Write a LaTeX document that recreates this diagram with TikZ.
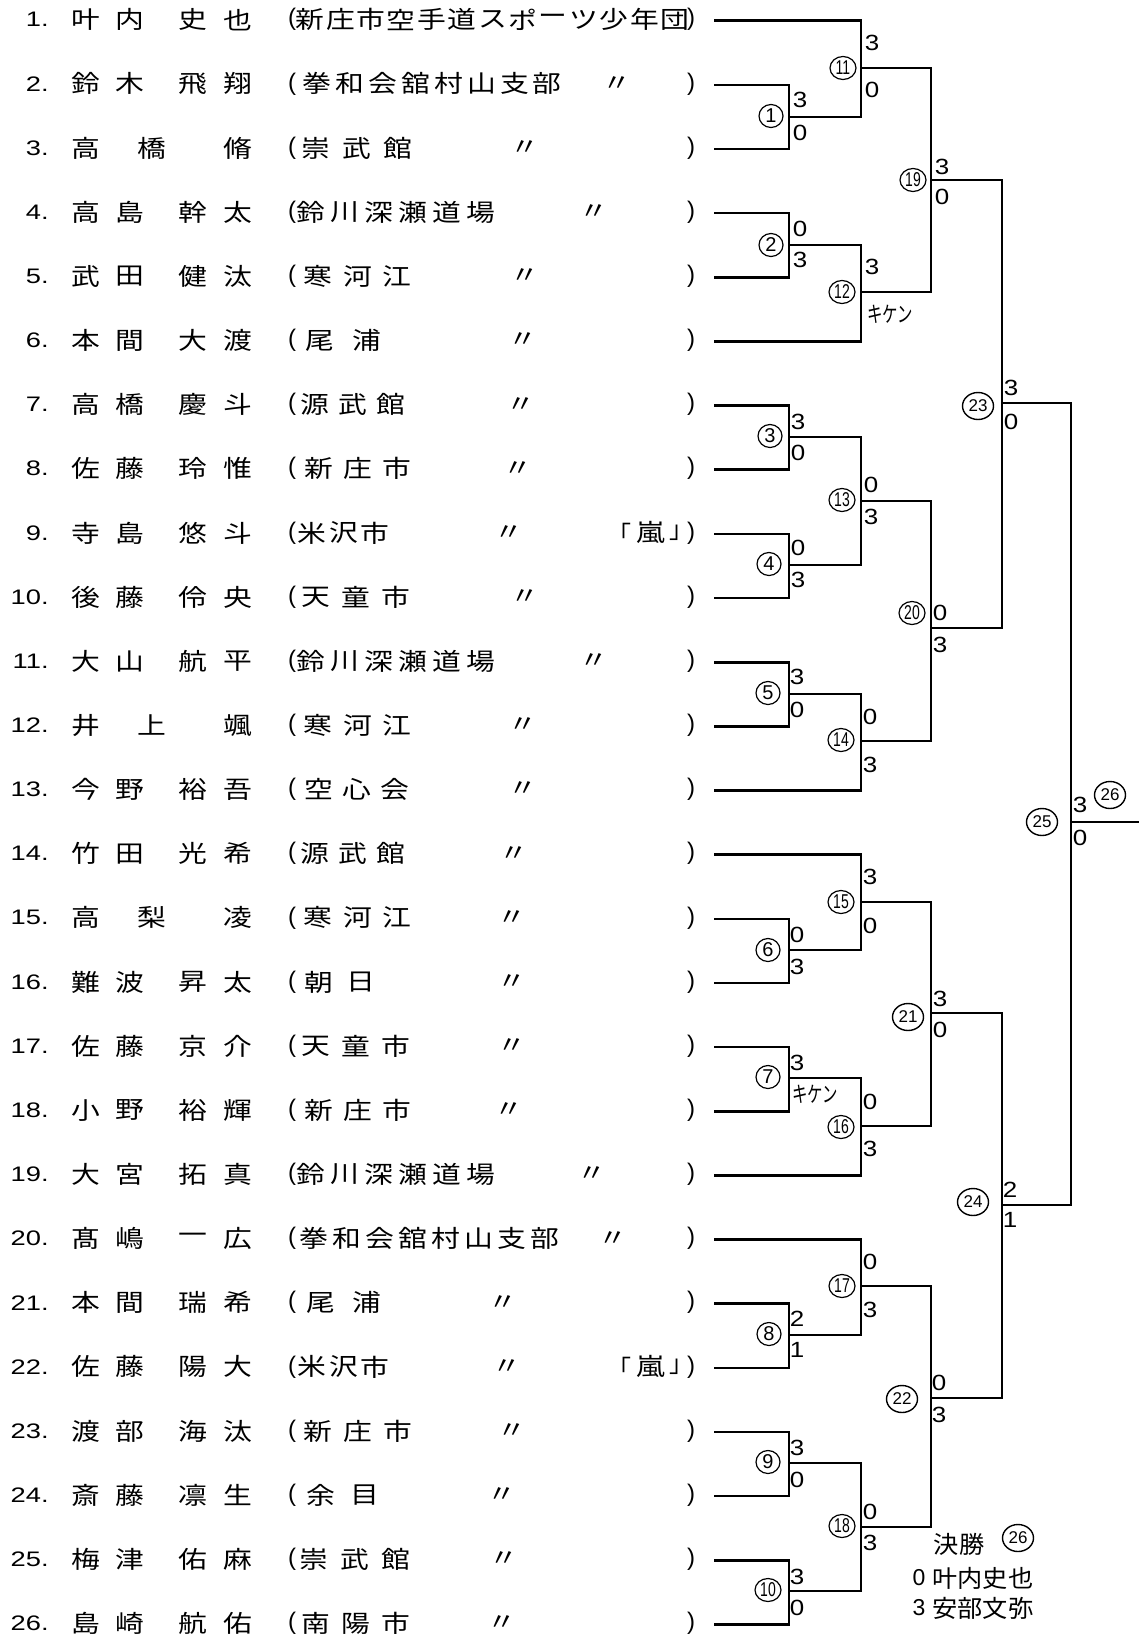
\documentclass[tikz,border=0pt]{standalone}
\usepackage{fontspec}
\usepackage{graphicx}
\usetikzlibrary{shapes.geometric}
\setmainfont{Liberation Sans}
\newfontfamily\jpf{Noto Sans CJK JP}
\newcommand\wx[1]{\scalebox{1.2}[1]{#1}}
\newcommand\sx[1]{\scalebox{1.18}[1]{#1}}
\newcommand\pyy[1]{(20.7+64.15*((#1)-1))}
\newcommand\tyy[1]{(19.7+64.15*((#1)-1))}
\newcommand\pnmF[5]{%
 \node[jp] (na#1) at (86,{\tyy{#1}}) {\wx{#2}};
 \node[jp] (nb#1) at (130,{\tyy{#1}}) {\wx{#3}};
 \node[jp] (nc#1) at (193,{\tyy{#1}}) {\wx{#4}};
 \node[jp] (nd#1) at (238,{\tyy{#1}}) {\wx{#5}};}
\newcommand\pnmT[4]{%
 \node[jp] (na#1) at (86,{\tyy{#1}}) {\wx{#2}};
 \node[jp] (nb#1) at (152,{\tyy{#1}}) {\wx{#3}};
 \node[jp] (nd#1) at (238,{\tyy{#1}}) {\wx{#4}};}
\newcommand\pclub[4]{\foreach \cc [count=\k] in {#4} {\node[jp] (cl#1-\k) at ({#2+#3*(\k-1)},{\tyy{#1}}) {\wx{\cc}};}}
\newcommand\pline[1]{%
 \coordinate (p#1) at (714,{\pyy{#1}});
 \node[numf] (n#1) at (49,{\tyy{#1}}) {\scalebox{1.3}[1]{#1.}};
 \node[parf] (lp#1) at (292,{\tyy{#1}}) {(};
 \node[parf] (rp#1) at (691,{\tyy{#1}}) {)};}
\newcommand\pdit[2]{\node[jp] (dt#1) at (#2,{\tyy{#1}}) {\wx{〃}};}
\newcommand\parashi[1]{%
 \node[jp] (ao#1) at (625,{\tyy{#1}}) {｢};
 \node[jp] (ar#1) at (651,{\tyy{#1}}) {\wx{嵐}};
 \node[jp] (ac#1) at (675,{\tyy{#1}}) {｣};}
\tikzset{
  brk/.style={line width=1.3pt, line join=miter},
  jp/.style={inner sep=0pt, font=\jpf\fontsize{12pt}{12pt}\selectfont},
  numf/.style={inner sep=0pt, anchor=east, font=\fontsize{10.5pt}{10.5pt}\selectfont},
  parf/.style={inner sep=0pt, font=\fontsize{12pt}{12pt}\selectfont},
  scf/.style={inner sep=0pt, font=\fontsize{11pt}{11pt}\selectfont},
  kik/.style={inner sep=0pt, font=\jpf\fontsize{11pt}{11pt}\selectfont},
  smc/.style={draw, ellipse, line width=0.6pt, inner sep=0pt, minimum width=12pt, minimum height=11.5pt, font=\fontsize{10pt}{10pt}\selectfont},
  smcc/.style={smc, minimum width=13pt},
  bgc/.style={draw, ellipse, line width=0.7pt, inner sep=0pt, minimum width=15.5pt, minimum height=13.5pt, font=\fontsize{8.5pt}{8.5pt}\selectfont},
  lgj/.style={inner sep=0pt, font=\jpf\fontsize{12pt}{12pt}\selectfont},
  lgd/.style={inner sep=0pt, font=\fontsize{11.5pt}{11.5pt}\selectfont},
}
\begin{document}
\begin{tikzpicture}[x=0.5pt,y=-0.5pt]
\path[fill=white] (0,0) rectangle (1139,1638);
\useasboundingbox (0,0) rectangle (1139,1638);
% ---------- rows ----------
\foreach \i in {1,...,26} {\pline{\i}}
\pnmF{1}{叶}{内}{史}{也} \pclub{1}{310}{30.4}{新,庄,市,空,手,道,ス,ポ,ー,ツ,少,年,団}
\pnmF{2}{鈴}{木}{飛}{翔} \pclub{2}{317}{32.9}{拳,和,会,舘,村,山,支,部} \pdit{2}{617}
\pnmT{3}{高}{橋}{脩} \pclub{3}{316}{41}{崇,武,館} \pdit{3}{525}
\pnmF{4}{高}{島}{幹}{太} \pclub{4}{311}{34}{鈴,川,深,瀬,道,場} \pdit{4}{594}
\pnmF{5}{武}{田}{健}{汰} \pclub{5}{318}{39.5}{寒,河,江} \pdit{5}{525}
\pnmF{6}{本}{間}{大}{渡} \pclub{6}{320}{47}{尾,浦} \pdit{6}{523}
\pnmF{7}{高}{橋}{慶}{斗} \pclub{7}{315}{38}{源,武,館} \pdit{7}{521}
\pnmF{8}{佐}{藤}{玲}{惟} \pclub{8}{319}{39}{新,庄,市} \pdit{8}{518}
\pnmF{9}{寺}{島}{悠}{斗} \pclub{9}{312}{31.5}{米,沢,市} \pdit{9}{509} \parashi{9}
\pnmF{10}{後}{藤}{伶}{央} \pclub{10}{316}{40}{天,童,市} \pdit{10}{525}
\pnmF{11}{大}{山}{航}{平} \pclub{11}{311}{34}{鈴,川,深,瀬,道,場} \pdit{11}{594}
\pnmT{12}{井}{上}{颯} \pclub{12}{318}{39.5}{寒,河,江} \pdit{12}{523}
\pnmF{13}{今}{野}{裕}{吾} \pclub{13}{319}{38}{空,心,会} \pdit{13}{523}
\pnmF{14}{竹}{田}{光}{希} \pclub{14}{315}{38}{源,武,館} \pdit{14}{514}
\pnmT{15}{高}{梨}{凌} \pclub{15}{318}{39.5}{寒,河,江} \pdit{15}{512}
\pnmF{16}{難}{波}{昇}{太} \pclub{16}{319}{42}{朝,日} \pdit{16}{512}
\pnmF{17}{佐}{藤}{京}{介} \pclub{17}{316}{40}{天,童,市} \pdit{17}{512}
\pnmF{18}{小}{野}{裕}{輝} \pclub{18}{319}{39}{新,庄,市} \pdit{18}{509}
\pnmF{19}{大}{宮}{拓}{真} \pclub{19}{311}{34}{鈴,川,深,瀬,道,場} \pdit{19}{592}
\pnmF{20}{髙}{嶋}{一}{広} \pclub{20}{314}{33}{拳,和,会,舘,村,山,支,部} \pdit{20}{613}
\pnmF{21}{本}{間}{瑞}{希} \pclub{21}{321}{46}{尾,浦} \pdit{21}{503}
\pnmF{22}{佐}{藤}{陽}{大} \pclub{22}{312}{31.5}{米,沢,市} \pdit{22}{507} \parashi{22}
\pnmF{23}{渡}{部}{海}{汰} \pclub{23}{318}{40}{新,庄,市} \pdit{23}{512}
\pnmF{24}{斎}{藤}{凛}{生} \pclub{24}{321}{44}{余,目} \pdit{24}{502}
\pnmF{25}{梅}{津}{佑}{麻} \pclub{25}{314}{41}{崇,武,館} \pdit{25}{504}
\pnmF{26}{島}{崎}{航}{佑} \pclub{26}{316}{40}{南,陽,市} \pdit{26}{502}
% ---------- match points ----------
\foreach \k/\xx/\yy in {1/789/117,2/789/245,3/789/437,4/789/565,5/789/694,6/789/950,7/789/1078,8/789/1335,9/789/1463,10/789/1591,
  11/861/68,12/861/292,13/861/501,14/861/741,15/861/902,16/861/1126,17/861/1286,18/861/1527,
  19/931/180,20/931/628,21/931/1013,22/931/1398,23/1002/403,24/1002/1205,25/1071/822}
  {\coordinate (m\k) at (\xx,\yy);}
\coordinate (fin) at (1139,822);
% ---------- bracket ----------
\foreach \k/\a/\b in {1/p2/p3,2/p4/p5,3/p7/p8,4/p9/p10,5/p11/p12,6/p15/p16,7/p17/p18,8/p21/p22,9/p23/p24,10/p25/p26,
  11/p1/m1,12/m2/p6,13/m3/m4,14/m5/p13,15/p14/m6,16/m7/p19,17/p20/m8,18/m9/m10,
  19/m11/m12,20/m13/m14,21/m15/m16,22/m17/m18,23/m19/m20,24/m21/m22,25/m23/m24}
  {\draw[brk] (\a) -- (\a -| m\k) -- (\b -| m\k) -- (\b);}
\draw[brk] (m25) -- (fin);
% ---------- match circles ----------
\foreach \k/\xx/\yy in {1/771/116,2/771/245,3/770/436,4/769/564,5/768/693,6/768/950,7/768/1077,8/769/1334,9/768/1462}
  {\node[smc] (c\k) at (\xx,\yy) {\k};}
\foreach \k/\xx/\yy in {10/768/1590,11/843/68,12/842/292,13/842/500,14/841/740,15/841/902,16/841/1127,17/842/1286,18/842/1526,19/913/180,20/912/613}
  {\node[smcc] (c\k) at (\xx,\yy) {\scalebox{0.7}[1]{\k}};}
\foreach \k/\xx/\yy in {21/908/1017,22/902/1399,23/978/406,24/973/1202,25/1042/822,26/1110/795}
  {\node[bgc] (c\k) at (\xx,\yy) {\k};}
% ---------- scores ----------
\foreach \k/\xa/\ya/\ta/\yb/\tb in {1/800/100/3/133/0,2/800/229/0/260/3,3/798/422/3/453/0,4/798/548/0/580/3,
  5/797/677/3/710/0,6/797/935/0/967/3,8/797/1319/2/1350/1,9/797/1448/3/1480/0,10/797/1577/3/1608/0,
  11/872/43/3/90/0,13/871/485/0/517/3,14/870/717/0/765/3,15/870/877/3/926/0,16/870/1102/0/1149/3,
  17/870/1262/0/1310/3,18/870/1512/0/1543/3,19/942/167/3/197/0,20/940/613/0/645/3,21/940/999/3/1030/0,
  22/939/1383/0/1415/3,23/1011/388/3/422/0,24/1010/1190/2/1220/1,25/1080/805/3/838/0}
  {\node[scf] (s\k a) at (\xa,\ya) {\sx{\ta}};
   \node[scf] (s\k b) at (\xa,\yb) {\sx{\tb}};}
\node[scf] (s7a) at (797,1063) {\sx{3}};
\node[kik] (s7b) at (815,1094) {\scalebox{0.7}[1]{キケン}};
\node[scf] (s12a) at (872,267) {\sx{3}};
\node[kik] (s12b) at (890,314) {\scalebox{0.7}[1]{キケン}};
% ---------- legend ----------
\node[lgj] (lgt) at (959,1544) {\scalebox{1.05}[1]{決勝}};
\node[bgc] (lgc) at (1018,1538) {26};
\node[lgd] (lg0) at (919,1578) {0};
\node[lgj,anchor=west] (lgn1) at (932,1578) {\scalebox{1.05}[1]{叶内史也}};
\node[lgd] (lg3) at (919,1608) {3};
\node[lgj,anchor=west] (lgn2) at (932,1608) {\scalebox{1.05}[1]{安部文弥}};
\end{tikzpicture}
\end{document}
